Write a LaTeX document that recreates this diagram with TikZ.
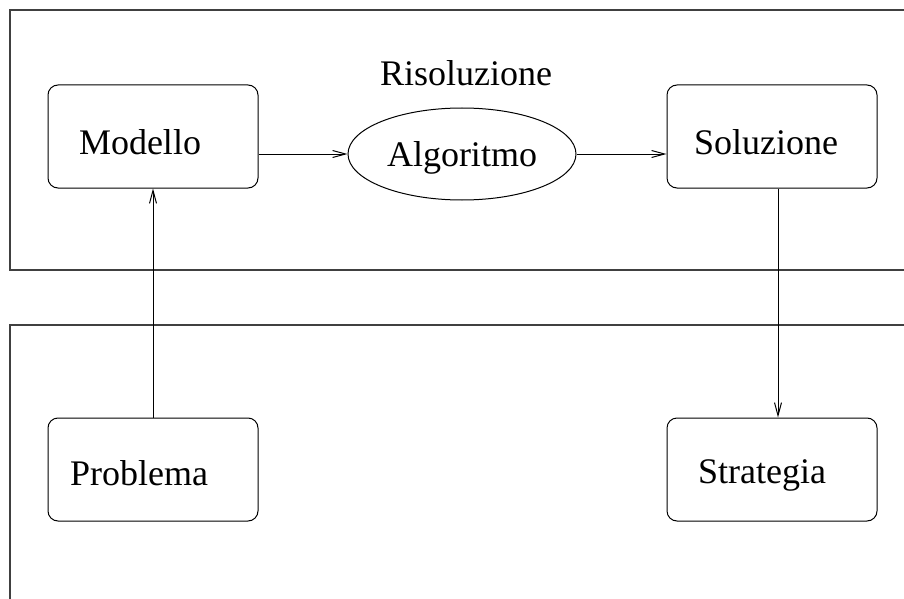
\documentclass[tikz,border=0pt]{standalone}
\usepackage{fontspec}
\setmainfont{Liberation Serif}
\usetikzlibrary{arrows.meta,shapes.geometric}

\begin{document}
\begin{tikzpicture}[x=.5pt,y=-.5pt,
  font=\fontsize{18}{22}\selectfont,
  frame/.style={draw, line width=.9pt, black!75},
  box/.style={draw, rounded corners=5pt, line width=.5pt,
    minimum width=105pt, minimum height=51.5pt, inner sep=0pt},
  oval/.style={draw, ellipse, line width=.5pt,
    minimum width=114pt, minimum height=46pt, inner sep=0pt},
  link/.style={draw, line width=.5pt, -{Straight Barb[length=6.5pt,width=3.5pt]}}]
\useasboundingbox (0,0) rectangle (904,599);
% the two frames
\path [frame] (910,10) -- (10,10) -- (10,270) -- (910,270);
\path [frame] (910,325) -- (10,325) -- (10,610);
\path (466,73) node (risoluzione) {Risoluzione};
% boxes
\node (modello) [box, label={[xshift=-6.5pt,yshift=-3pt]center:Modello}] at (153,136.5) {};
\node (algoritmo) [oval, label={[yshift=-2pt]center:Algoritmo}] at (462,154) {};
\node (soluzione) [box, label={[xshift=-3pt,yshift=-3pt]center:Soluzione}] at (772,136.5) {};
\node (problema) [box, label={[xshift=-7pt,yshift=-2pt]center:Problema}] at (153,469.5) {};
\node (strategia) [box, label={[xshift=-5pt,yshift=-3pt]center:Strategia}] at (772,469.5) {};
% connectors
\path [link] (modello.east |- algoritmo) -- (algoritmo.west);
\path [link] (algoritmo.east) -- (soluzione.west |- algoritmo);
\path [link] (problema.north) -- (modello.south);
\path [link] ([xshift=3pt]soluzione.south) -- ([xshift=3pt]strategia.north);
\end{tikzpicture}
\end{document}
